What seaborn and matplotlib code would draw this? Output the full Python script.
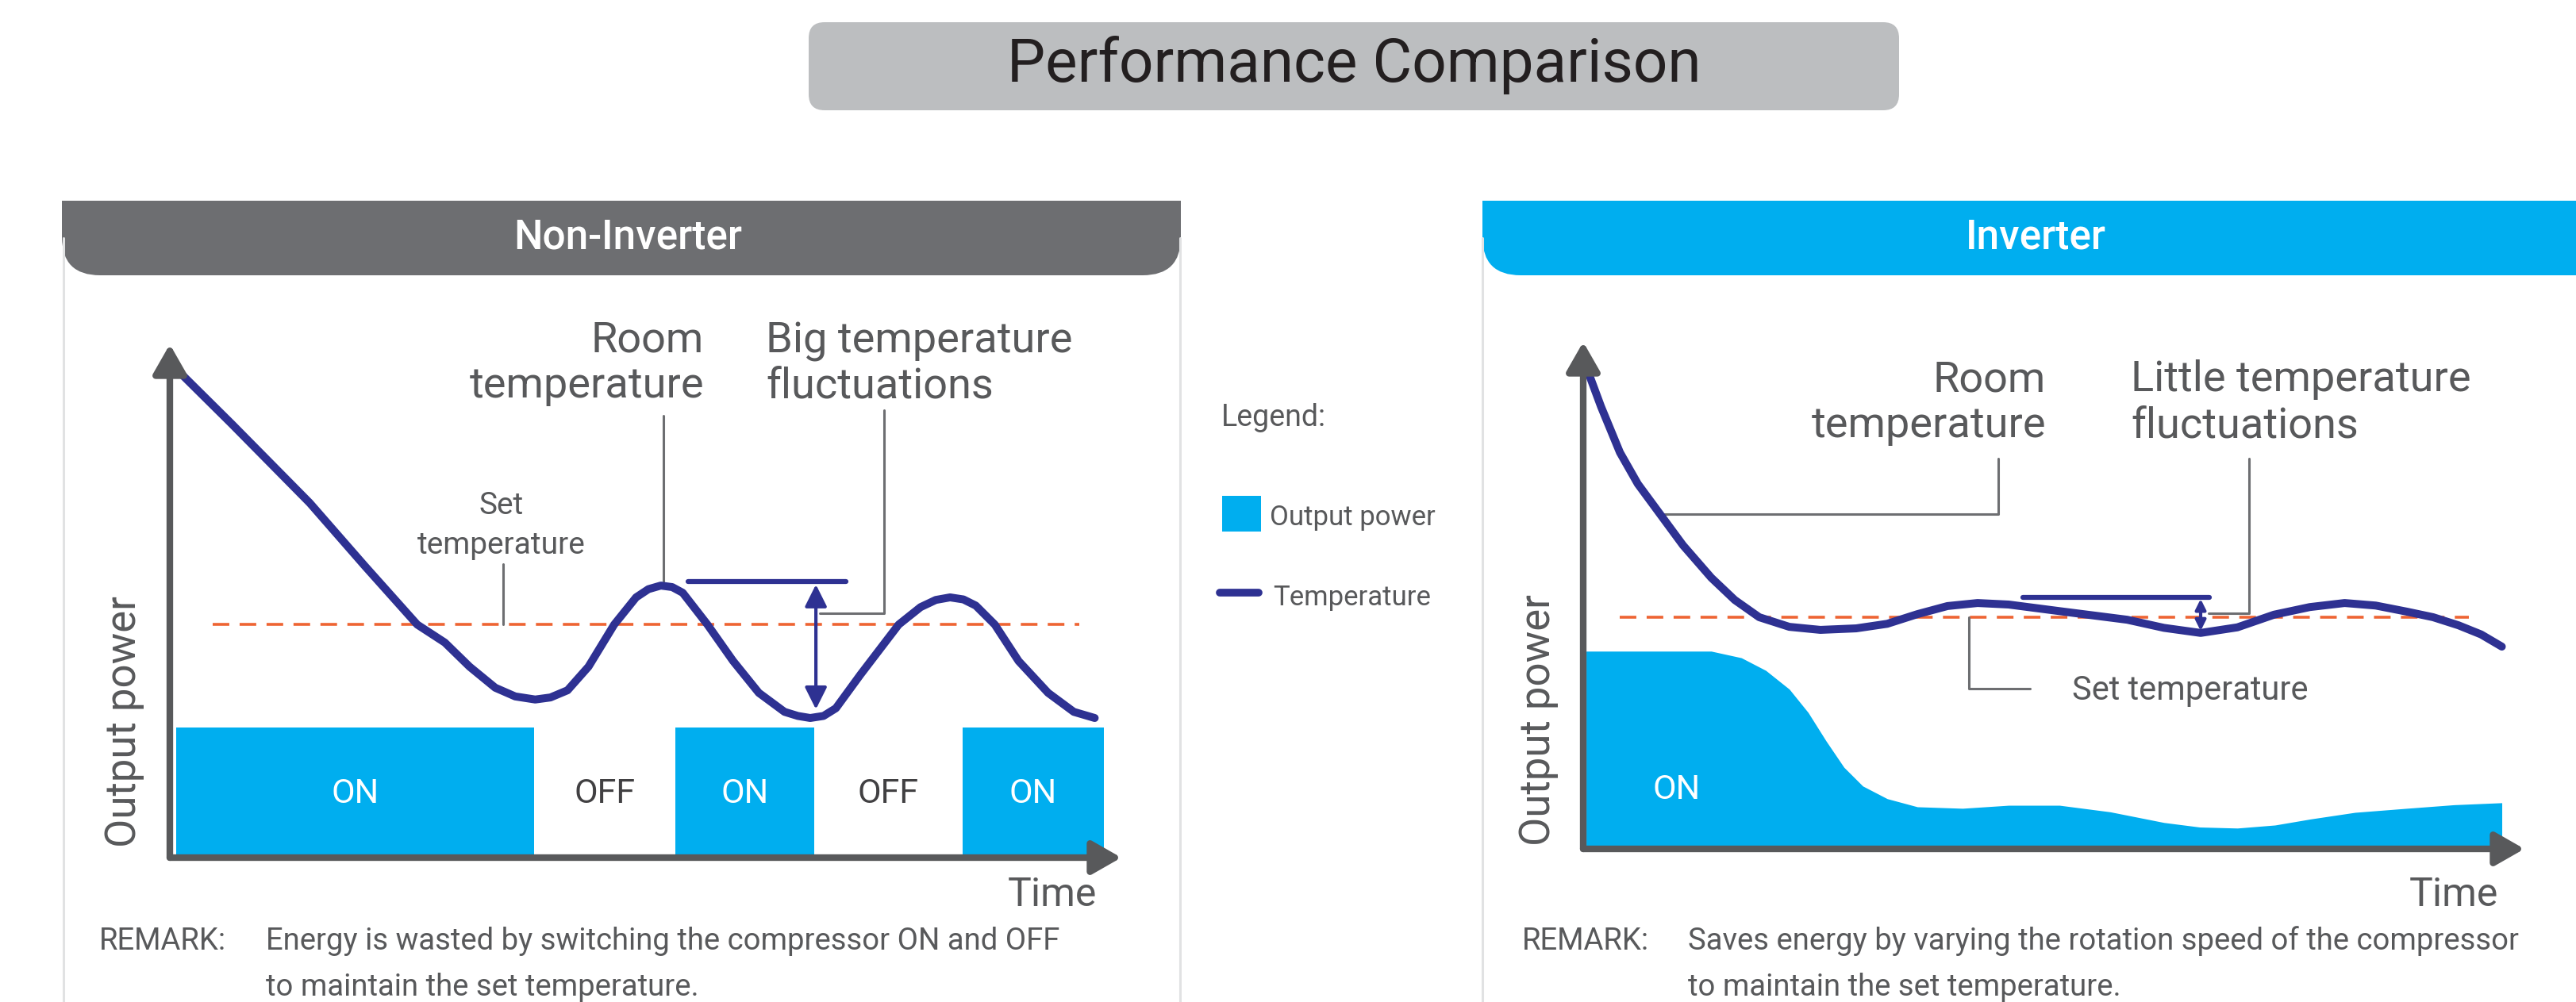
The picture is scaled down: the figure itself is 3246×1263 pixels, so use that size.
import numpy as np
import pandas as pd
import seaborn as sns
import matplotlib.pyplot as plt
from matplotlib.patches import FancyBboxPatch, Rectangle

# ---- data (time / level on a 0-100 scale) ----
# Non-Inverter: room temperature curve
left_t = [1.0, 6.5, 14.7, 20.5, 26.0, 28.9, 31.5, 34.2, 36.3, 38.4, 40.0, 41.8, 44.0, 46.7,
          49.0, 50.3, 51.6, 52.8, 53.9, 56.5, 59.2, 61.9, 64.6, 66.0, 67.3, 68.7, 70.0, 72.6,
          76.6, 78.9, 80.5, 82.0, 83.4, 84.7, 86.7, 89.2, 92.3, 95.0, 97.2]
left_temp = [94.6, 84.5, 69.1, 56.8, 45.4, 41.9, 37.2, 33.1, 31.4, 30.8, 31.2, 32.6, 37.2, 45.4,
             50.7, 52.3, 53.0, 52.7, 51.6, 45.4, 38.3, 32.1, 28.4, 27.6, 27.2, 27.6, 29.1, 35.7,
             45.4, 48.8, 50.2, 50.7, 50.3, 49.1, 45.4, 38.3, 32.1, 28.4, 27.2]
left_set = 45.4
# compressor segments
seg_edges = [0.7, 38.3, 53.1, 67.7, 83.3, 98.2]
seg_state = ["ON", "OFF", "ON", "OFF", "ON"]
on_level = 25.3

# Inverter: room temperature curve and output power
right_t = [0.5, 1.9, 3.9, 5.8, 8.1, 10.6, 13.6, 16.1, 18.7, 21.9, 25.2, 29.0, 32.3, 35.5,
           38.7, 41.9, 45.2, 50.6, 57.8, 61.7, 65.6, 69.5, 73.4, 77.2, 80.9, 84.2, 87.5,
           90.3, 93.0, 95.4, 97.6]
right_temp = [94.2, 87.2, 78.2, 72.0, 66.2, 59.9, 53.5, 49.1, 45.7, 43.8, 43.2, 43.5, 44.4, 46.3,
              47.9, 48.5, 48.2, 46.9, 45.2, 43.6, 42.6, 43.7, 46.2, 47.7, 48.5, 48.0, 46.8,
              45.7, 44.1, 42.3, 39.9]
right_set = 45.7
power_t = [0.3, 13.6, 16.8, 19.4, 21.9, 23.9, 25.8, 27.7, 29.7, 32.3, 35.5, 40.3, 45.2, 50.6,
           56.0, 61.7, 65.5, 69.5, 73.5, 77.3, 82.0, 87.5, 92.5, 97.6]
power_val = [39.0, 39.0, 37.7, 35.2, 31.5, 26.9, 21.3, 16.1, 12.4, 9.9, 8.3, 8.0, 8.6, 8.6,
             7.3, 5.2, 4.3, 4.1, 4.7, 5.9, 7.2, 8.0, 8.7, 9.1]

BLUE = "#00aeef"
NAVY = "#2e3192"
ORANGE = "#ee6433"
AXIS = "#58595b"
TXT = "#58595b"
LEAD = "#6d6e71"

W, H = 3246, 1263

sns.set_theme(style="white")
plt.rcParams['font.family'] = ['Roboto', 'DejaVu Sans']

fig = plt.figure(figsize=(W / 100, H / 100), dpi=100)
fig.patch.set_facecolor("white")

# background layer in pixel units
bg = fig.add_axes([0, 0, 1, 1])
bg.set_xlim(0, W)
bg.set_ylim(H, 0)
bg.axis("off")


def header(x0, x1, color, label):
    # square top corners, rounded bottom corners
    bg.add_patch(FancyBboxPatch((x0, 253), x1 - x0, 94,
                                boxstyle="round,pad=0,rounding_size=48", fc=color, ec="none"))
    bg.add_patch(Rectangle((x0, 253), x1 - x0, 50, fc=color, ec="none"))
    bg.text((x0 + min(x1, W)) / 2 + 8, 300, label, color="white", fontsize=37,
            fontweight="medium", ha="center", va="center")


# title
bg.add_patch(FancyBboxPatch((1019, 28), 1374, 111, boxstyle="round,pad=0,rounding_size=20",
                            fc="#bcbec0", ec="none"))
bg.text(1706, 82, "Performance Comparison", fontsize=55, color="#231f20", ha="center",
        va="center")

# panel frames
for x in (80, 1487, 1868):
    bg.plot([x, x], [300, H], color="#e1e2e3", lw=2.2)
header(78, 1488, "#6d6e71", "Non-Inverter")
header(1868, W + 60, BLUE, "Inverter")

# legend
bg.text(1539, 537, "Legend:", fontsize=27, color=TXT, va="baseline")
bg.add_patch(Rectangle((1540, 625), 49, 45, fc=BLUE, ec="none"))
bg.text(1600, 662, "Output power", fontsize=25, color=TXT, va="baseline")
bg.plot([1537, 1586], [747, 747], color=NAVY, lw=7, solid_capstyle="round")
bg.text(1604, 763, "Temperature", fontsize=25, color=TXT, va="baseline")

# remarks
rem = 27.5
bg.text(125, 1197, "REMARK:", fontsize=rem, color=TXT, va="baseline")
bg.text(335, 1197, "Energy is wasted by switching the compressor ON and OFF", fontsize=rem,
        color=TXT, va="baseline")
bg.text(335, 1255, "to maintain the set temperature.", fontsize=rem, color=TXT, va="baseline")
bg.text(1918, 1197, "REMARK:", fontsize=rem, color=TXT, va="baseline")
bg.text(2127, 1197, "Saves energy by varying the rotation speed of the compressor", fontsize=rem,
        color=TXT, va="baseline")
bg.text(2127, 1255, "to maintain the set temperature.", fontsize=rem, color=TXT, va="baseline")

# chart labels
big = 39
bg.text(887, 444, "Room", fontsize=big, color=TXT, ha="right", va="baseline")
bg.text(887, 501, "temperature", fontsize=big, color=TXT, ha="right", va="baseline")
bg.text(965, 444, "Big temperature", fontsize=big, color=TXT, va="baseline")
bg.text(965, 501, "fluctuations", fontsize=big, color=TXT, va="baseline")
bg.text(632, 648, "Set", fontsize=28, color=TXT, ha="center", va="baseline")
bg.text(632, 698, "temperature", fontsize=28, color=TXT, ha="center", va="baseline")
bg.text(1382, 1142, "Time", fontsize=36, color=TXT, ha="right", va="baseline")
bg.text(156, 910, "Output power", fontsize=38, color=TXT, rotation=90, ha="center", va="center")

bg.text(2578, 493, "Room", fontsize=big, color=TXT, ha="right", va="baseline")
bg.text(2578, 551, "temperature", fontsize=big, color=TXT, ha="right", va="baseline")
bg.text(2685, 493, "Little temperature", fontsize=big, color=TXT, va="baseline")
bg.text(2685, 551, "fluctuations", fontsize=big, color=TXT, va="baseline")
bg.text(2611, 882, "Set temperature", fontsize=30, color=TXT, va="baseline")
bg.text(3148, 1142, "Time", fontsize=36, color=TXT, ha="right", va="baseline")
bg.text(1939, 908, "Output power", fontsize=38, color=TXT, rotation=90, ha="center", va="center")


def draw_axes(ax):
    ax.set_xlim(0, 100)
    ax.set_ylim(0, 100)
    ax.axis("off")
    ax.patch.set_alpha(0)
    style = "-|>,head_length=0.7,head_width=0.4"
    for end in [(100, 0), (0, 100)]:
        ax.annotate("", xy=end, xytext=(0, 0),
                    arrowprops=dict(arrowstyle=style, color=AXIS, lw=6, mutation_scale=32,
                                    shrinkA=0, shrinkB=0), annotation_clip=False, zorder=6)


def double_arrow(ax, x, y0, y1, size):
    ax.annotate("", xy=(x, y1), xytext=(x, y0),
                arrowprops=dict(arrowstyle="<|-|>,head_length=0.6,head_width=0.3", color=NAVY,
                                lw=3, mutation_scale=size, shrinkA=0, shrinkB=0), zorder=5)


# ---- Non-Inverter chart ----
axL = fig.add_axes([214 / W, 1 - 1081 / H, 1199 / W, 647 / H])
draw_axes(axL)
widths = np.diff(seg_edges)
for x0, w, s in zip(seg_edges[:-1], widths, seg_state):
    if s == "ON":
        axL.bar(x0, on_level, width=w, align="edge", color=BLUE, lw=0, zorder=2)
    axL.text(x0 + w / 2, 12.4, s, ha="center", va="center", fontsize=31,
             color="white" if s == "ON" else "#414042")
axL.plot([4.5, 95.6], [left_set, left_set], color=ORANGE, lw=2.6, dashes=(5.8, 3.6), zorder=3)
df_left = pd.DataFrame({"t": left_t, "temp": left_temp})
sns.lineplot(data=df_left, x="t", y="temp", ax=axL, color=NAVY, lw=7.2, zorder=4,
             solid_capstyle="round", solid_joinstyle="round")
axL.set_xlim(0, 100)
axL.set_ylim(0, 100)
axL.axis("off")
# annotations
axL.plot([54.5, 71.1], [53.8, 53.8], color=NAVY, lw=4.5, zorder=5)
double_arrow(axL, 67.9, 28.9, 53.2, 28)
axL.plot([75.1, 75.1, 68.3], [87.2, 47.6, 47.6], color=LEAD, lw=2.2, zorder=3)
axL.plot([51.9, 51.9], [86.1, 53.5], color=LEAD, lw=2.2, zorder=3)
axL.plot([35.0, 35.0], [57.2, 45.4], color=LEAD, lw=2.2, zorder=3)

# ---- Inverter chart ----
axR = fig.add_axes([1995 / W, 1 - 1070 / H, 1186 / W, 639 / H])
draw_axes(axR)
axR.fill_between(power_t, power_val, 0, color=BLUE, lw=0, zorder=2)
axR.text(9.9, 11.7, "ON", ha="center", va="center", fontsize=31, color="white")
axR.plot([3.9, 94.1], [right_set, right_set], color=ORANGE, lw=2.6, dashes=(5.8, 3.6), zorder=3)
df_right = pd.DataFrame({"t": right_t, "temp": right_temp})
sns.lineplot(data=df_right, x="t", y="temp", ax=axR, color=NAVY, lw=7.2, zorder=4,
             solid_capstyle="round", solid_joinstyle="round")
axR.set_xlim(0, 100)
axR.set_ylim(0, 100)
axR.axis("off")
axR.plot([46.7, 66.5], [49.6, 49.6], color=NAVY, lw=4.5, zorder=5)
double_arrow(axR, 65.6, 43.0, 49.3, 13)
axR.plot([70.7, 70.7, 66.4], [77.0, 46.5, 46.5], color=LEAD, lw=2.2, zorder=3)
axR.plot([44.1, 44.1, 8.2], [77.0, 66.0, 66.0], color=LEAD, lw=2.2, zorder=3)
axR.plot([41.0, 41.0, 47.5], [45.7, 31.6, 31.6], color=LEAD, lw=2.2, zorder=3)

fig.savefig("out.png", dpi=100)
